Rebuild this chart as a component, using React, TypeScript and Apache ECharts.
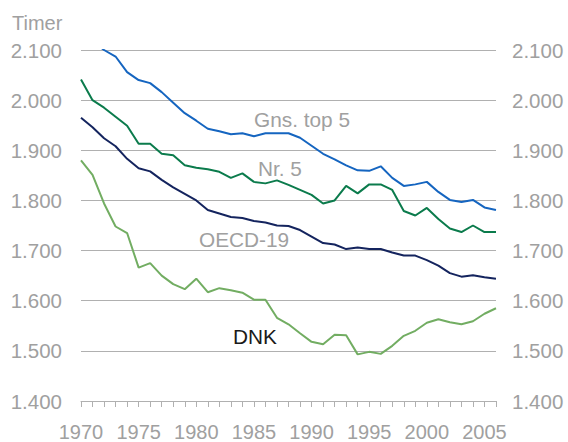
import React, { useEffect, useRef } from "react";
import * as echarts from "echarts";

const years = [
  "1970", "1971", "1972", "1973", "1974", "1975", "1976", "1977", "1978", "1979",
  "1980", "1981", "1982", "1983", "1984", "1985", "1986", "1987", "1988", "1989",
  "1990", "1991", "1992", "1993", "1994", "1995", "1996", "1997", "1998", "1999",
  "2000", "2001", "2002", "2003", "2004", "2005", "2006",
];

const gnsTop5 = [
  2140, 2118, 2100, 2087, 2056, 2040, 2034, 2016, 1995, 1974,
  1959, 1943, 1938, 1932, 1934, 1928, 1934, 1934, 1934, 1925,
  1909, 1893, 1882, 1870, 1860, 1859, 1868, 1845, 1829, 1832,
  1837, 1817, 1801, 1797, 1801, 1786, 1781,
];

const nr5 = [
  2041, 2000, 1985, 1967, 1949, 1913, 1913, 1893, 1890, 1870,
  1865, 1862, 1857, 1845, 1854, 1837, 1834, 1840, 1831, 1821,
  1811, 1794, 1800, 1829, 1814, 1832, 1832, 1821, 1779, 1770,
  1785, 1763, 1744, 1737, 1750, 1737, 1737,
];

const oecd19 = [
  1965, 1946, 1924, 1908, 1883, 1864, 1858, 1841, 1826, 1813,
  1800, 1781, 1774, 1767, 1765, 1759, 1756, 1750, 1749, 1741,
  1728, 1715, 1712, 1703, 1706, 1703, 1703, 1696, 1690, 1690,
  1681, 1670, 1655, 1648, 1651, 1647, 1644,
];

const dnk = [
  1880, 1851, 1794, 1748, 1735, 1666, 1675, 1650, 1633, 1623,
  1644, 1617, 1625, 1621, 1616, 1602, 1602, 1566, 1553, 1535,
  1518, 1513, 1532, 1531, 1493, 1498, 1494, 1510, 1530, 1540,
  1556, 1563, 1557, 1553, 1559, 1574, 1585,
];

const seriesNames = ["Gns. top 5", "Nr. 5", "OECD-19", "DNK"];
const yMin = 1400;
const yMax = 2100;
const yStep = 100;

const FONT = '"Liberation Sans", Arial, sans-serif';
const GRAY_TEXT = "#a0a0a0";
const GRID_GRAY = "#b0b0b0";

const fmt = (v: number) => {
  const s = String(Math.round(v));
  return s.length > 3 ? s.slice(0, s.length - 3) + "." + s.slice(s.length - 3) : s;
};

export default function App() {
  const ref = useRef<HTMLDivElement>(null);
  useEffect(() => {
    document.body.style.margin = "0";
    if (!ref.current) return;
    const chart = echarts.init(ref.current, null, { renderer: "svg" });
    const axisLabel = { color: GRAY_TEXT, fontSize: 20.5, fontFamily: FONT, formatter: fmt };
    const mkText = (text: string, x: number, y: number, fill: string, size: number) => ({
      type: "text",
      x,
      y,
      silent: true,
      style: {
        text,
        fill,
        font: `${size}px ${FONT}`,
        textAlign: "left",
        textVerticalAlign: "middle",
        align: "left",
        verticalAlign: "middle",
      },
    });
    chart.setOption({
      animation: false,
      backgroundColor: "#ffffff",
      grid: { left: 81, right: 72, top: 50, bottom: 37, containLabel: false },
      xAxis: {
        type: "category",
        data: years,
        boundaryGap: false,
        axisLine: { show: true, lineStyle: { color: GRID_GRAY, width: 1 } },
        axisTick: { show: true, interval: 0, length: 6, lineStyle: { color: GRID_GRAY } },
        axisLabel: { color: GRAY_TEXT, fontSize: 20, fontFamily: FONT, interval: 4, margin: 21 },
        splitLine: { show: false },
      },
      yAxis: [
        {
          type: "value",
          min: yMin,
          max: yMax,
          interval: yStep,
          position: "left",
          axisLine: { show: false },
          axisTick: { show: false },
          axisLabel: { ...axisLabel, margin: 19 },
          splitLine: { show: true, lineStyle: { color: GRID_GRAY, width: 1 } },
        },
        {
          type: "value",
          min: yMin,
          max: yMax,
          interval: yStep,
          position: "right",
          axisLine: { show: false },
          axisTick: { show: false },
          axisLabel: { ...axisLabel, margin: 16 },
          splitLine: { show: false },
        },
      ],
      series: [
        { name: seriesNames[0], data: gnsTop5, color: "#1565c0" },
        { name: seriesNames[1], data: nr5, color: "#0b7b4c" },
        { name: seriesNames[2], data: oecd19, color: "#14245e" },
        { name: seriesNames[3], data: dnk, color: "#72ad62" },
      ].map((s) => ({
        type: "line",
        name: s.name,
        data: s.data,
        yAxisIndex: 0,
        symbol: "none",
        clip: true,
        lineStyle: { color: s.color, width: 2 },
        itemStyle: { color: s.color },
      })),
      graphic: [
        mkText("Timer", 12, 23, GRAY_TEXT, 20),
        mkText(seriesNames[0], 254, 119, GRAY_TEXT, 20.8),
        mkText(seriesNames[1], 258, 168, GRAY_TEXT, 20.8),
        mkText(seriesNames[2], 199, 239, GRAY_TEXT, 20.8),
        mkText(seriesNames[3], 233, 336, "#1a1a1a", 20.8),
      ],
    });
    return () => chart.dispose();
  }, []);
  return <div ref={ref} style={{ width: 568, height: 442 }} />;
}
